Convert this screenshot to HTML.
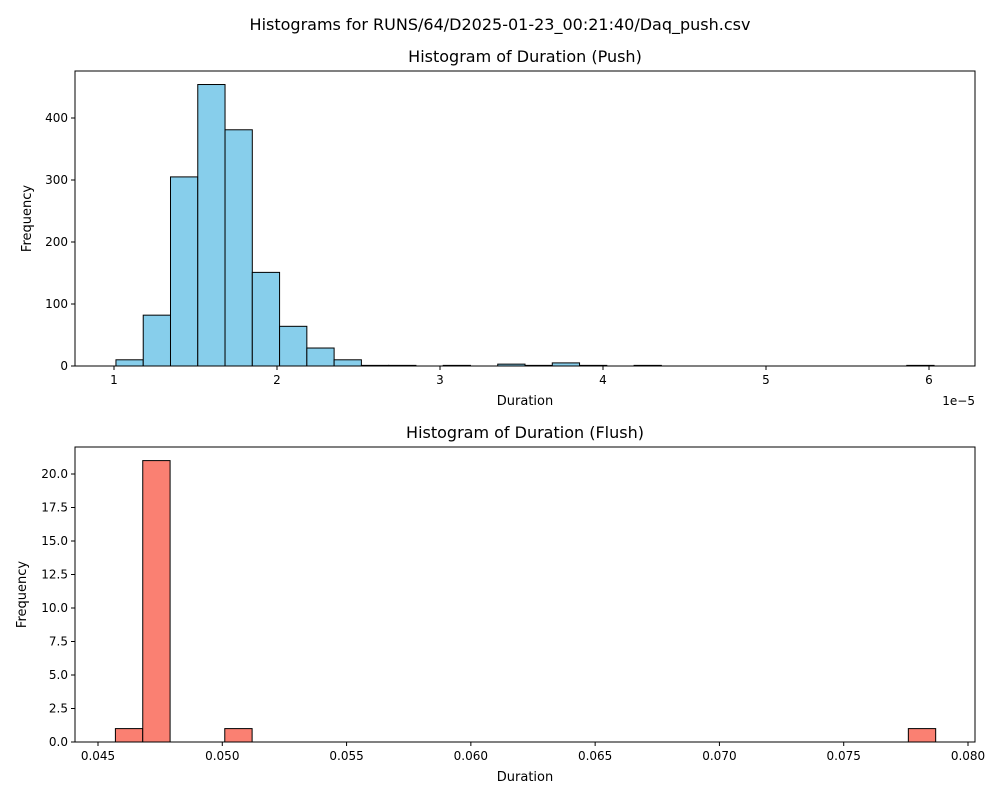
<!DOCTYPE html>
<html><head><meta charset="utf-8"><style>
body{margin:0;background:#fff;}
svg text{font-family:"DejaVu Sans","Liberation Sans",sans-serif;fill:#000;}
</style></head><body>
<svg id="fig" width="1000" height="800" xmlns="http://www.w3.org/2000/svg">
<rect width="1000" height="800" fill="#fff"/>
<text x="500" y="30" font-size="16" text-anchor="middle">Histograms for RUNS/64/D2025-01-23_00:21:40/Daq_push.csv</text>
</svg>
<script>
// Push histogram (x in units of 1e-5)
const pushStart = 1.012;
const pushBinWidth = 0.1673;
const pushCounts = [10,82,305,454,381,151,64,29,10,1,1,0,1,0,3,1,5,1,0,1,0,0,0,0,0,0,0,0,0,1];
const pushXTicks = [1,2,3,4,5,6];
const pushYTicks = [0,100,200,300,400];
// Flush histogram
const flushStart = 0.04570;
const flushBinWidth = 0.0011;
const flushCounts = [1,21,0,0,1,0,0,0,0,0,0,0,0,0,0,0,0,0,0,0,0,0,0,0,0,0,0,0,0,1];
const flushXTicks = [0.045,0.050,0.055,0.060,0.065,0.070,0.075,0.080];
const flushXLabels = ["0.045","0.050","0.055","0.060","0.065","0.070","0.075","0.080"];
const flushYTicks = [0,2.5,5,7.5,10,12.5,15,17.5,20];
const flushYLabels = ["0.0","2.5","5.0","7.5","10.0","12.5","15.0","17.5","20.0"];

const NS="http://www.w3.org/2000/svg";
const svg=document.getElementById('fig');
function mk(tag,attrs,parent){const e=document.createElementNS(NS,tag);for(const k in attrs)e.setAttribute(k,attrs[k]);(parent||svg).appendChild(e);return e;}

function drawHist(o){
  const g=mk('g',{});
  
  
  const X=v=>o.x0+(v-o.xmin)/(o.xmax-o.xmin)*(o.x1-o.x0);
  const Y=v=>o.y0-(v-o.ymin)/(o.ymax-o.ymin)*(o.y0-o.y1);
  o.counts.forEach((c,i)=>{
    if(c<=0)return;
    const a=X(o.start+i*o.bw),b=X(o.start+(i+1)*o.bw);
    const r=mk('rect',{x:a,y:Y(c),width:b-a,height:Y(0)-Y(c),fill:o.color,stroke:'#000','stroke-width':1},g);
    
    
  });
  const fr=mk('rect',{x:o.x0,y:o.y1,width:o.x1-o.x0,height:o.y0-o.y1,fill:'none',stroke:'#000','stroke-width':1},g);
  
  
  o.xt.forEach((v,i)=>{
    const x=X(v);
    mk('line',{x1:x,x2:x,y1:o.y0,y2:o.y0+4,stroke:'#000'},g);
    const t=mk('text',{x:x,y:o.y0+18,'font-size':12,'text-anchor':'middle'},g);
    t.textContent=o.xl[i];
    
    
  });
  o.yt.forEach((v,i)=>{
    const y=Y(v);
    mk('line',{x1:o.x0-4,x2:o.x0,y1:y,y2:y,stroke:'#000'},g);
    const t=mk('text',{x:o.x0-7,y:y+4,'font-size':12,'text-anchor':'end'},g);
    t.textContent=o.yl[i];
    
    
  });
  const tt=mk('text',{x:(o.x0+o.x1)/2,y:o.y1-9,'font-size':16,'text-anchor':'middle'},g);
  tt.textContent=o.title;
  
  
  const xa=mk('text',{x:(o.x0+o.x1)/2,y:o.y0+39,'font-size':13,'text-anchor':'middle'},g);
  xa.textContent='Duration';
  
  
  const yy=(o.y0+o.y1)/2;
  const ya=mk('text',{x:o.yax,y:yy,'font-size':13,'text-anchor':'middle',transform:`rotate(-90 ${o.yax} ${yy})`},g);
  ya.textContent='Frequency';
  
  
  if(o.offset){
    const of=mk('text',{x:o.x1,y:o.y0+39,'font-size':12,'text-anchor':'end'},g);
    of.textContent=o.offset;
    
    
  }
}
drawHist({name:'push-histogram',x0:75,x1:975,y0:366,y1:71,xmin:1-39/163,xmax:1+861/163,ymin:0,ymax:295/0.62,
  start:pushStart,bw:pushBinWidth,counts:pushCounts,color:'#87ceeb',xt:pushXTicks,xl:pushXTicks.map(String),
  yt:pushYTicks,yl:pushYTicks.map(String),title:'Histogram of Duration (Push)',yax:31,offset:'1e\u22125'});
drawHist({name:'flush-histogram',x0:75,x1:975,y0:742,y1:447,xmin:0.045-23/24857,xmax:0.045+877/24857,ymin:0,ymax:295/13.4,
  start:flushStart,bw:flushBinWidth,counts:flushCounts,color:'#fa8072',xt:flushXTicks,xl:flushXLabels,
  yt:flushYTicks,yl:flushYLabels,title:'Histogram of Duration (Flush)',yax:26});
</script>
</body></html>
